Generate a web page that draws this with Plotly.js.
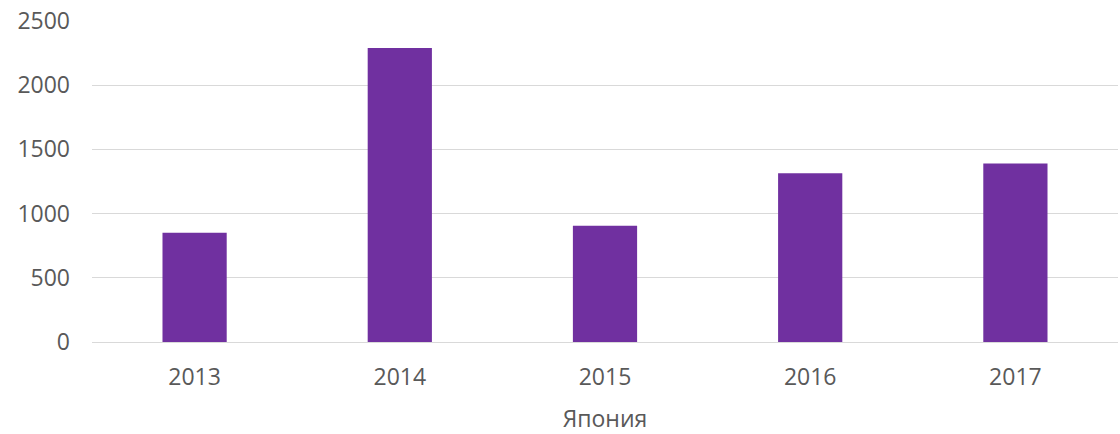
<!DOCTYPE html>
<html>
<head>
<meta charset="utf-8">
<script src="https://cdn.plot.ly/plotly-3.0.1.min.js"></script>
<style>html,body{margin:0;padding:0;background:#fff;}#chart{width:1120px;height:434px;}</style>
</head>
<body>
<div id="chart"></div>
<script>
const years = ['2013', '2014', '2015', '2016', '2017'];
const values = [850, 2290, 905, 1315, 1390];
const yTicks = [0, 500, 1000, 1500, 2000, 2500];
const axisTitle = 'Япония';

const font = {family: '"Open Sans", "DejaVu Sans", sans-serif', size: 23, color: '#595959'};

Plotly.newPlot('chart', [{
  type: 'bar',
  x: years,
  y: values,
  marker: {color: '#7030A0'},
  hoverinfo: 'x+y'
}], {
  width: 1120,
  height: 434,
  margin: {l: 92, r: 2, t: 21, b: 92},
  paper_bgcolor: '#ffffff',
  plot_bgcolor: '#ffffff',
  font: font,
  bargap: 0.687,
  showlegend: false,
  xaxis: {
    type: 'category',
    showgrid: false,
    showline: false,
    zeroline: false,
    ticks: '',
    tickfont: font,
    ticklabelstandoff: 19,
    automargin: false,
    title: {text: axisTitle, font: font, standoff: 20}
  },
  yaxis: {
    range: [0, 2500],
    tickvals: yTicks,
    ticktext: yTicks.map(String),
    showgrid: true,
    gridcolor: '#d9d9d9',
    gridwidth: 1,
    zeroline: true,
    zerolinecolor: '#d9d9d9',
    zerolinewidth: 1,
    showline: false,
    ticks: '',
    tickfont: font,
    ticklabelstandoff: 21,
    automargin: false
  }
}, {displayModeBar: false, staticPlot: false});
</script>
</body>
</html>
